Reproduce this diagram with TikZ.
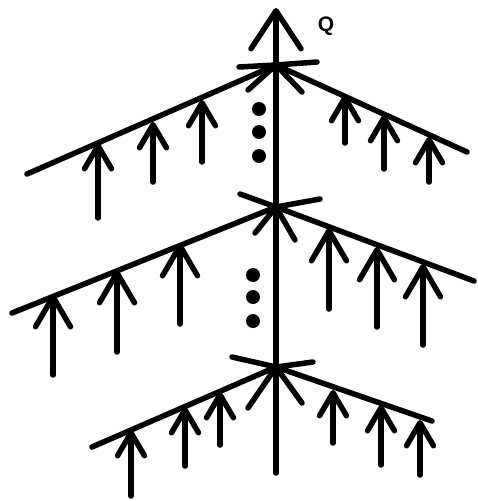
\documentclass[tikz,border=0pt]{standalone}
\usepackage{fontspec}
\setsansfont{Liberation Sans}
\usetikzlibrary{arrows.meta}

\begin{document}
\begin{tikzpicture}[x=1pt, y=-1pt,
          stroke/.style={line width=5.5pt, line cap=round, line join=round},
          smallarr/.style={stroke, -{Straight Barb[length=23pt, width=27pt, round]}},
          midarr/.style={stroke, -{Straight Barb[length=30pt, width=35pt, round]}},
          trunkarr/.style={stroke, -{Straight Barb[length=38pt, width=50pt, round]}},
          dotmark/.style={circle, fill=black, inner sep=0pt, minimum size=14pt}
        ]
        \useasboundingbox (0,0) rectangle (478,501);

        \coordinate (base) at (276, 473);
        \coordinate (tip)  at (276, 8);
        \coordinate (jtop) at (276, 65);
        \coordinate (jmid) at (276, 207);
        \coordinate (jbot) at (276, 367);

        \node[font=\sffamily\bfseries\fontsize{21}{21}\selectfont] (q) at (326, 26) {Q};

        \draw[trunkarr] (base) -- (tip);

        % branches
        \draw[stroke] (27, 174) -- (jtop) -- (467, 152);
        \draw[stroke] (12, 313) -- (jmid) -- (474, 281);
        \draw[stroke] (92, 447) -- (jbot) -- (432, 421);

        % strokes round the joints
        \draw[stroke] (jtop) -- (239, 67)  (jtop) -- (317, 62)
                      (jtop) -- (248, 90)  (jtop) -- (302, 92);
        \draw[stroke] (jmid) -- (240, 194) (jmid) -- (320, 199)
                      (jmid) -- (255, 233) (jmid) -- (295, 240);
        \draw[stroke] (jbot) -- (232, 357) (jbot) -- (313, 362)
                      (jbot) -- (248, 408) (jbot) -- (302, 403);

        \foreach \x/\yt/\yb in {98/143/218, 153/122/182, 202/100/162,
                                345/95/143, 384/115/169, 429/137/182,
                                131/430/496, 185/407/466, 220/392/445,
                                333/390/443, 381/405/465, 420/420/475}
          \draw[smallarr] (\x, \yb) -- (\x, \yt);

        \foreach \x/\yt/\yb in {53/294/375, 117/270/352, 180/243/324,
                                329/228/309, 377/247/327, 423/264/345}
          \draw[midarr] (\x, \yb) -- (\x, \yt);

        \foreach \y [count=\i] in {109, 132, 156}
          \node[dotmark] (dt\i) at (259, \y) {};
        \foreach \y [count=\i] in {275, 297, 321}
          \node[dotmark] (dm\i) at (253, \y) {};
      \end{tikzpicture}
\end{document}
